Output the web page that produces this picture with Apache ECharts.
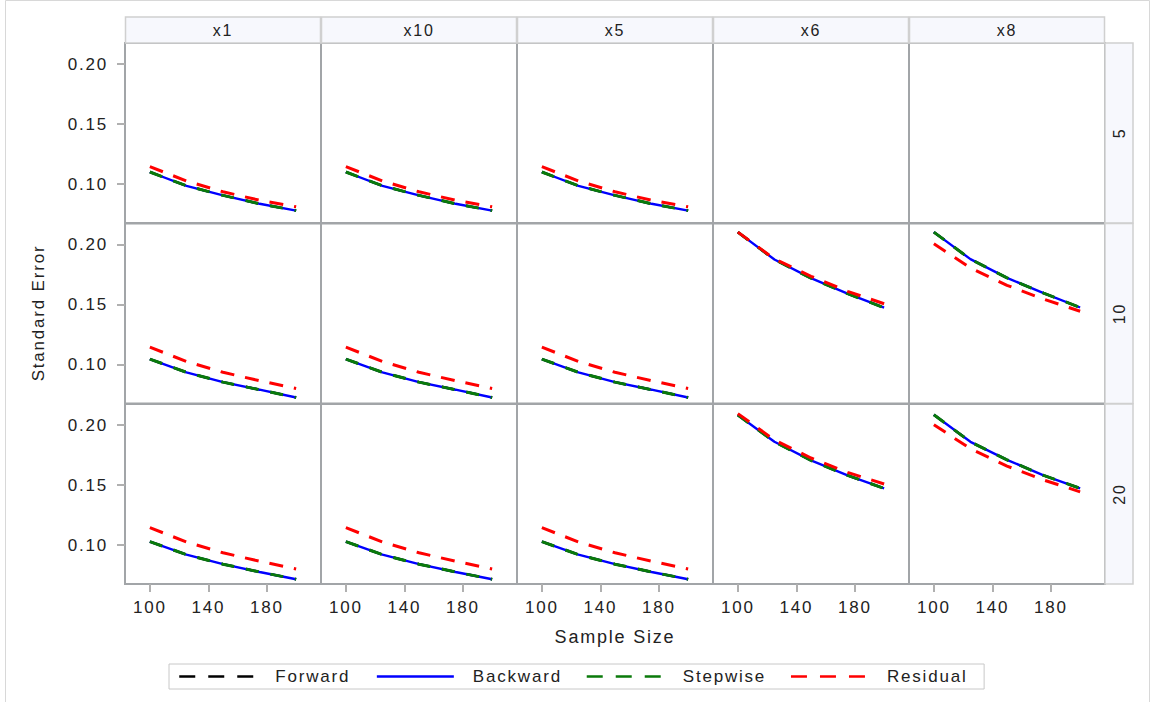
<!DOCTYPE html>
<html>
<head>
<meta charset="utf-8">
<script src="https://cdn.jsdelivr.net/npm/echarts@6/dist/echarts.min.js"></script>
<style>
    html, body { margin: 0; padding: 0; background: #fff; }
    #main { width: 1156px; height: 702px; }
    #main text { letter-spacing: 1.8px; }
</style>
</head>
<body>
<div id="main"></div>
<script>
// 数据
const sampleSizes = [100, 125, 150, 175, 200];
const colNames = ['x1', 'x10', 'x5', 'x6', 'x8'];
const rowNames = ['5', '10', '20'];
const xTicks = [100, 140, 180];
const yTicks = [0.10, 0.15, 0.20];
const seriesNames = ['Forward', 'Backward', 'Stepwise', 'Residual'];

// 行 5 (x6, x8 无数据)
const forward5  = [[0.110, 0.0985, 0.0905, 0.0835, 0.0778], [0.110, 0.0985, 0.0905, 0.0835, 0.0778], [0.110, 0.0985, 0.0905, 0.0835, 0.0778], null, null];
const backward5 = [[0.110, 0.0985, 0.0905, 0.0835, 0.0778], [0.110, 0.0985, 0.0905, 0.0835, 0.0778], [0.110, 0.0985, 0.0905, 0.0835, 0.0778], null, null];
const stepwise5 = [[0.110, 0.0985, 0.0905, 0.0835, 0.0778], [0.110, 0.0985, 0.0905, 0.0835, 0.0778], [0.110, 0.0985, 0.0905, 0.0835, 0.0778], null, null];
const residual5 = [[0.1145, 0.1025, 0.0935, 0.0865, 0.0810], [0.1145, 0.1025, 0.0935, 0.0865, 0.0810], [0.1145, 0.1025, 0.0935, 0.0865, 0.0810], null, null];

// 行 10
const forward10  = [[0.1045, 0.0935, 0.0853, 0.0790, 0.0725], [0.1045, 0.0935, 0.0853, 0.0790, 0.0725], [0.1045, 0.0935, 0.0853, 0.0790, 0.0725], [0.2103, 0.1875, 0.1720, 0.1590, 0.1473], [0.2103, 0.1878, 0.1722, 0.1595, 0.1475]];
const backward10 = [[0.1045, 0.0935, 0.0853, 0.0790, 0.0725], [0.1045, 0.0935, 0.0853, 0.0790, 0.0725], [0.1045, 0.0935, 0.0853, 0.0790, 0.0725], [0.2103, 0.1875, 0.1720, 0.1590, 0.1473], [0.2103, 0.1878, 0.1722, 0.1595, 0.1475]];
const stepwise10 = [[0.1045, 0.0935, 0.0853, 0.0790, 0.0725], [0.1045, 0.0935, 0.0853, 0.0790, 0.0725], [0.1045, 0.0935, 0.0853, 0.0790, 0.0725], [0.2103, 0.1875, 0.1720, 0.1590, 0.1473], [0.2103, 0.1878, 0.1722, 0.1595, 0.1475]];
const residual10 = [[0.1145, 0.1025, 0.0935, 0.0865, 0.0800], [0.1145, 0.1025, 0.0935, 0.0865, 0.0800], [0.1145, 0.1025, 0.0935, 0.0865, 0.0800], [0.2103, 0.1880, 0.1735, 0.1610, 0.1506], [0.2006, 0.1805, 0.1660, 0.1545, 0.1444]];

// 行 20
const forward20  = [[0.1028, 0.0920, 0.0840, 0.0775, 0.0715], [0.1028, 0.0920, 0.0840, 0.0775, 0.0715], [0.1028, 0.0920, 0.0840, 0.0775, 0.0715], [0.2083, 0.1860, 0.1705, 0.1580, 0.1472], [0.2085, 0.1860, 0.1710, 0.1580, 0.1472]];
const backward20 = [[0.1028, 0.0920, 0.0840, 0.0775, 0.0715], [0.1028, 0.0920, 0.0840, 0.0775, 0.0715], [0.1028, 0.0920, 0.0840, 0.0775, 0.0715], [0.2083, 0.1860, 0.1705, 0.1580, 0.1472], [0.2085, 0.1860, 0.1710, 0.1580, 0.1472]];
const stepwise20 = [[0.1028, 0.0920, 0.0840, 0.0775, 0.0715], [0.1028, 0.0920, 0.0840, 0.0775, 0.0715], [0.1028, 0.0920, 0.0840, 0.0775, 0.0715], [0.2083, 0.1860, 0.1705, 0.1580, 0.1472], [0.2085, 0.1860, 0.1710, 0.1580, 0.1472]];
const residual20 = [[0.1145, 0.1025, 0.0935, 0.0865, 0.0800], [0.1145, 0.1025, 0.0935, 0.0865, 0.0800], [0.1145, 0.1025, 0.0935, 0.0865, 0.0800], [0.2095, 0.1875, 0.1725, 0.1605, 0.1508], [0.2003, 0.1802, 0.1658, 0.1542, 0.1443]];

const rowData = [
    [forward5, backward5, stepwise5, residual5],
    [forward10, backward10, stepwise10, residual10],
    [forward20, backward20, stepwise20, residual20]
];

// 布局
const FONT = 'Liberation Sans, Arial, sans-serif';
const PANEL_LEFT = 125;
const PANEL_W = 196;
const PANEL_TOPS = [43, 223.5, 404];
const PANEL_H = 180;
const STRIP_BG = '#f7f8fd';

const lineStyles = {
    Forward:  { color: '#000000', width: 2.5, type: [13, 12] },
    Backward: { color: '#0000ff', width: 2.4, type: 'solid' },
    Stepwise: { color: '#0a7a0a', width: 3, type: [13, 12] },
    Residual: { color: '#ff0000', width: 3, type: [14, 11] }
};

const grids = [], xAxes = [], yAxes = [], series = [], graphics = [];

// 外框
graphics.push({
    type: 'rect', z: 0,
    shape: { x: 5.5, y: 0.5, width: 1144, height: 706 },
    style: { fill: 'none', stroke: '#d8d8d8', lineWidth: 1 }
});

// 顶部列标题条
colNames.forEach((name, c) => {
    const x = PANEL_LEFT + c * PANEL_W;
    graphics.push({
        type: 'rect', z: 1,
        shape: { x: x + 0.5, y: 17, width: PANEL_W - 1, height: 26 },
        style: { fill: STRIP_BG, stroke: '#d0d0d0', lineWidth: 1.5 }
    });
    graphics.push({
        type: 'text', z: 2,
        x: x + PANEL_W / 2, y: 30,
        style: { text: name, fontSize: 16, fontFamily: FONT, fill: '#222', align: 'center', verticalAlign: 'middle' }
    });
});

// 右侧行标题条
rowNames.forEach((name, r) => {
    const y = PANEL_TOPS[r];
    graphics.push({
        type: 'rect', z: 1,
        shape: { x: 1105, y: y, width: 28, height: PANEL_H },
        style: { fill: STRIP_BG, stroke: '#d0d0d0', lineWidth: 1.5 }
    });
    graphics.push({
        type: 'text', z: 2,
        x: 1119, y: y + PANEL_H / 2,
        rotation: Math.PI / 2,
        style: { text: name, fontSize: 16, fontFamily: FONT, fill: '#222', align: 'center', verticalAlign: 'middle' }
    });
});

// 轴标题
graphics.push({
    type: 'text', z: 2, x: 38, y: 313, rotation: Math.PI / 2,
    style: { text: 'Standard Error', fontSize: 17, fontFamily: FONT, fill: '#222', align: 'center', verticalAlign: 'middle' }
});
graphics.push({
    type: 'text', z: 2, x: 615, y: 637,
    style: { text: 'Sample Size', fontSize: 18, fontFamily: FONT, fill: '#222', align: 'center', verticalAlign: 'middle' }
});

// 面板
rowNames.forEach((rowName, r) => {
    colNames.forEach((colName, c) => {
        const idx = grids.length;
        grids.push({
            left: PANEL_LEFT + c * PANEL_W,
            top: PANEL_TOPS[r],
            width: PANEL_W,
            height: PANEL_H,
            show: true,
            borderColor: '#a2a5a8',
            borderWidth: 2,
            backgroundColor: '#fff',
            containLabel: false
        });
        const bottomRow = r === rowNames.length - 1;
        const firstCol = c === 0;
        xAxes.push({
            gridIndex: idx, type: 'value', min: 83, max: 217,
            axisLine: { show: false },
            splitLine: { show: false },
            axisTick: { show: bottomRow, customValues: xTicks, length: 8, lineStyle: { color: '#b0b0b0', width: 2 } },
            axisLabel: { show: bottomRow, customValues: xTicks, margin: 15, fontSize: 17, fontFamily: FONT, color: '#222' }
        });
        yAxes.push({
            gridIndex: idx, type: 'value', min: 0.0675, max: 0.2175,
            axisLine: { show: false },
            splitLine: { show: false },
            axisTick: { show: firstCol, customValues: yTicks, length: 8, lineStyle: { color: '#b0b0b0', width: 2 } },
            axisLabel: { show: firstCol, customValues: yTicks, margin: 17, fontSize: 17, fontFamily: FONT, color: '#222',
                formatter: v => v.toFixed(2) }
        });
        seriesNames.forEach((sName, s) => {
            const values = rowData[r][s][c];
            if (!values) return;
            const ls = lineStyles[sName];
            series.push({
                name: sName,
                type: 'line',
                xAxisIndex: idx,
                yAxisIndex: idx,
                data: sampleSizes.map((n, i) => [n, values[i]]),
                symbol: 'none',
                silent: true,
                animation: false,
                z: 2 + s,
                lineStyle: { color: ls.color, width: ls.width, type: ls.type },
                itemStyle: { color: ls.color }
            });
        });
    });
});

// 图例项: 图例中的虚线比面板里略长
const legendData = seriesNames.map(name => ({
    name: name,
    lineStyle: { type: name === 'Backward' ? 'solid' : [16, 13], width: 2.5 }
}));

const chart = echarts.init(document.getElementById('main'), null, { renderer: 'svg' });
chart.setOption({
    animation: false,
    backgroundColor: '#fff',
    grid: grids,
    xAxis: xAxes,
    yAxis: yAxes,
    series: series,
    graphic: graphics,
    legend: {
        data: legendData,
        left: 169,
        bottom: 13,
        selectedMode: false,
        itemWidth: 77,
        itemHeight: 12,
        itemGap: 38,
        itemStyle: { opacity: 0 },
        borderColor: '#c8c8c8',
        borderWidth: 1,
        padding: [4, 31, 4, 9],
        textStyle: { fontSize: 17, fontFamily: FONT, color: '#222', padding: [0, 0, 0, 14] }
    }
});
</script>
</body>
</html>
